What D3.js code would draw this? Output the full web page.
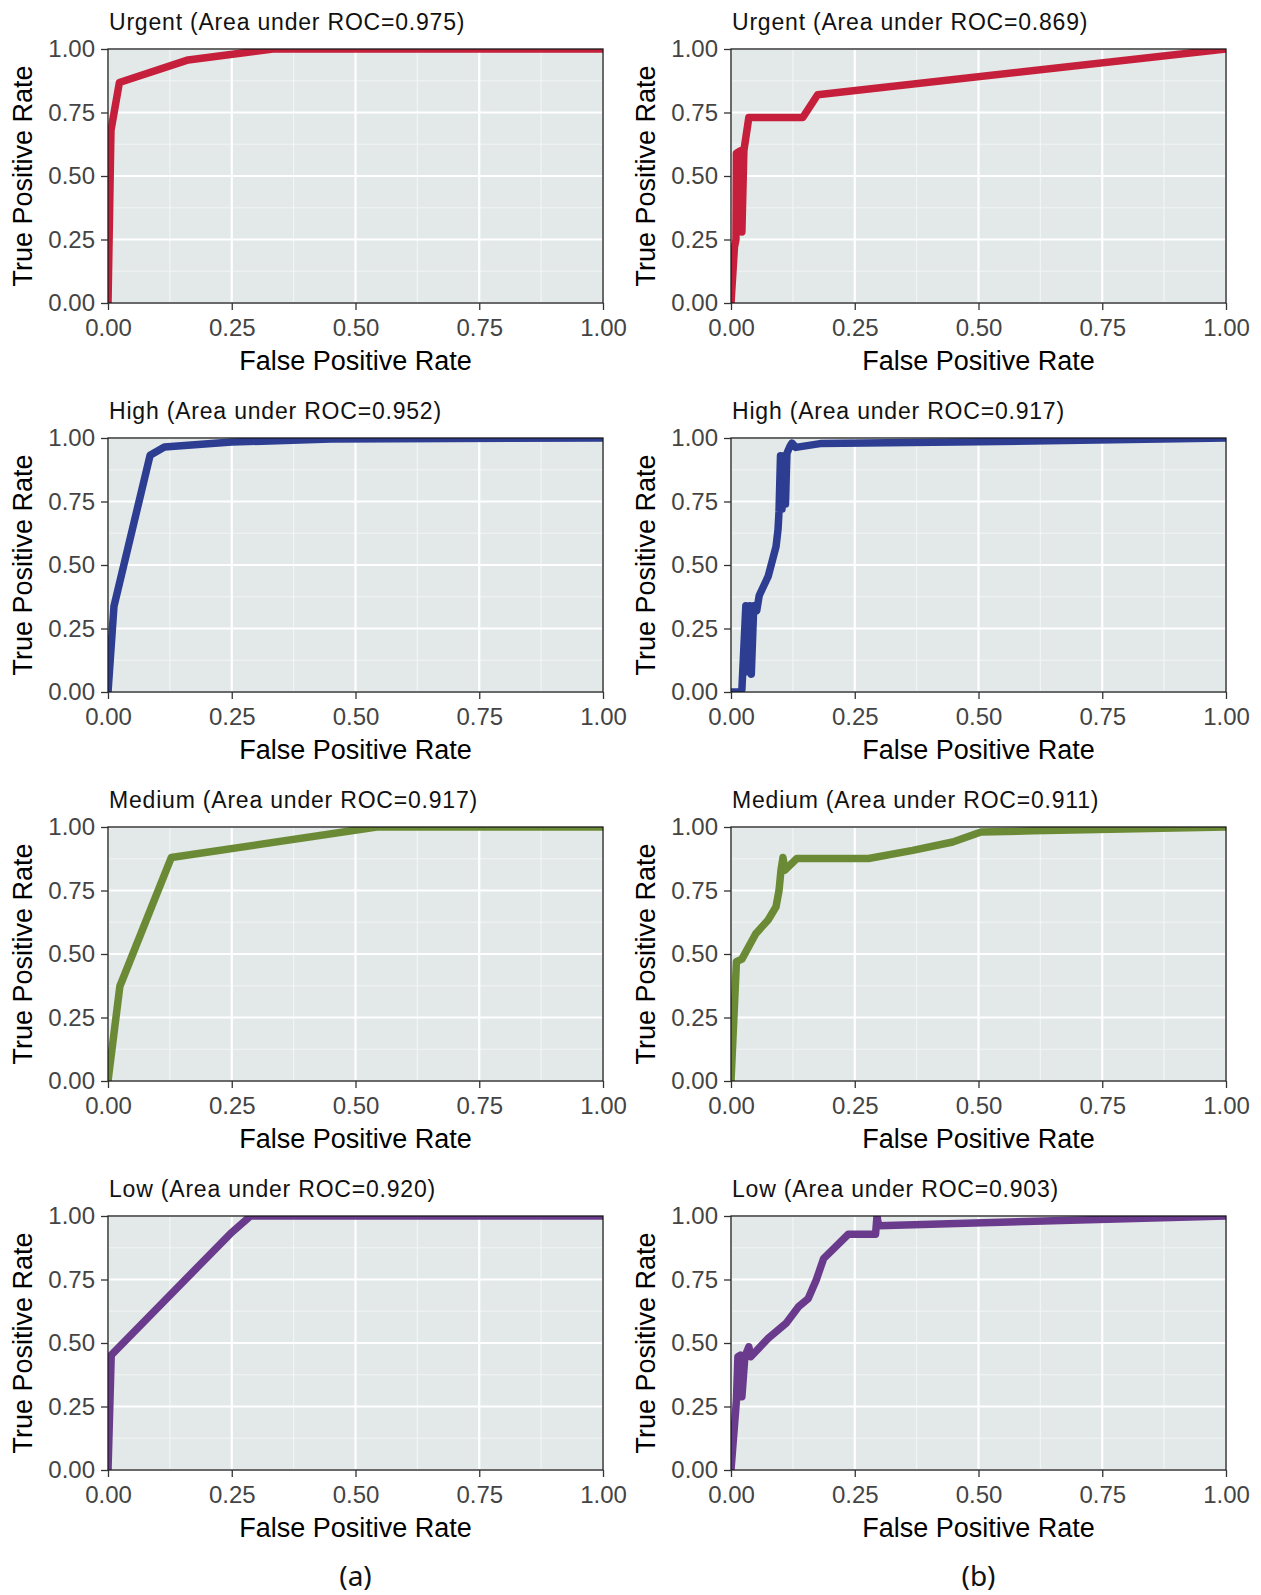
<!DOCTYPE html>
<html><head><meta charset="utf-8">
<script src="https://cdn.jsdelivr.net/npm/d3@7"></script>
<style>
body{margin:0;background:#fff;}
svg{display:block;font-family:"Liberation Sans",Arial,sans-serif;}
</style>
</head><body><svg id="chart" width="1261" height="1595"></svg>
<script>
// ---------- data ----------
const classes = ["Urgent", "High", "Medium", "Low"];
const aucA = [0.975, 0.952, 0.917, 0.920];
const aucB = [0.869, 0.917, 0.911, 0.903];
const lineColors = ["#C61F3B", "#2C3D92", "#6A8A35", "#6A3B8C"];
const tickValues = [0, 0.25, 0.5, 0.75, 1];
const minorValues = [0.125, 0.375, 0.625, 0.875];
const columnLabels = ["(a)", "(b)"];
const xTitle = "False Positive Rate";
const yTitle = "True Positive Rate";

// column (a)
const urgentA_fpr = [0, 0.006, 0.023, 0.162, 0.333, 1];
const urgentA_tpr = [0, 0.68, 0.868, 0.957, 1, 1];
const highA_fpr = [0, 0.012, 0.085, 0.114, 0.25, 0.45, 1];
const highA_tpr = [0, 0.337, 0.932, 0.965, 0.984, 0.996, 1];
const mediumA_fpr = [0, 0.024, 0.128, 0.543, 1];
const mediumA_tpr = [0, 0.373, 0.88, 1, 1];
const lowA_fpr = [0, 0.0065, 0.247, 0.288, 1];
const lowA_tpr = [0, 0.452, 0.93, 1, 1];

// column (b)
const urgentB_fpr = [0, 0.007, 0.010, 0.011, 0.020, 0.022, 0.026, 0.036, 0.145, 0.175, 1];
const urgentB_tpr = [0, 0.22, 0.25, 0.59, 0.60, 0.28, 0.60, 0.73, 0.73, 0.82, 1];
const highB_fpr = [0, 0.018, 0.022, 0.030, 0.033, 0.038, 0.041, 0.046, 0.052, 0.057, 0.075, 0.091, 0.095, 0.097, 0.100, 0.103, 0.107, 0.110, 0.113, 0.119, 0.123, 0.131, 0.18, 0.5, 1];
const highB_tpr = [0, 0, 0.01, 0.34, 0.08, 0.34, 0.07, 0.34, 0.32, 0.38, 0.455, 0.573, 0.64, 0.71, 0.93, 0.72, 0.93, 0.74, 0.94, 0.967, 0.98, 0.963, 0.978, 0.985, 1];
const mediumB_fpr = [0, 0.011, 0.022, 0.05, 0.075, 0.091, 0.097, 0.101, 0.105, 0.109, 0.133, 0.278, 0.367, 0.448, 0.505, 0.61, 1];
const mediumB_tpr = [0, 0.47, 0.48, 0.58, 0.634, 0.686, 0.75, 0.83, 0.88, 0.83, 0.876, 0.876, 0.908, 0.941, 0.98, 0.985, 1];
const lowB_fpr = [0, 0.011, 0.014, 0.019, 0.022, 0.028, 0.036, 0.040, 0.075, 0.111, 0.136, 0.156, 0.172, 0.187, 0.237, 0.292, 0.295, 0.298, 1];
const lowB_tpr = [0, 0.275, 0.446, 0.452, 0.288, 0.446, 0.485, 0.446, 0.518, 0.577, 0.642, 0.675, 0.747, 0.832, 0.928, 0.928, 1.0, 0.962, 1];

const seriesA = [[urgentA_fpr, urgentA_tpr], [highA_fpr, highA_tpr], [mediumA_fpr, mediumA_tpr], [lowA_fpr, lowA_tpr]];
const seriesB = [[urgentB_fpr, urgentB_tpr], [highB_fpr, highB_tpr], [mediumB_fpr, mediumB_tpr], [lowB_fpr, lowB_tpr]];

// ---------- layout ----------
const svg = d3.select("#chart");
const panelW = 495, panelH = 254;
const colX = [108, 731];
const rowY = [49, 438, 827, 1216];
const x = d3.scaleLinear().domain([0, 1]).range([0, panelW]);
const y = d3.scaleLinear().domain([0, 1]).range([panelH, 0]);
const fmt = d3.format(".2f");
const line = d3.line().x(d => x(d[0])).y(d => y(d[1]));

const defs = svg.append("defs");
defs.append("clipPath").attr("id", "panelClip")
  .append("rect").attr("width", panelW).attr("height", panelH);

[seriesA, seriesB].forEach((cols, ci) => {
  const aucs = ci === 0 ? aucA : aucB;
  cols.forEach((s, ri) => {
    const g = svg.append("g").attr("transform", `translate(${colX[ci]},${rowY[ri]})`);
    g.append("rect").attr("width", panelW).attr("height", panelH).attr("fill", "#E3E8E8");
    minorValues.forEach(v => {
      g.append("line").attr("x1", x(v)).attr("x2", x(v)).attr("y1", 0).attr("y2", panelH)
        .attr("stroke", "#F3F5F5").attr("stroke-width", 1.1);
      g.append("line").attr("y1", y(v)).attr("y2", y(v)).attr("x1", 0).attr("x2", panelW)
        .attr("stroke", "#F3F5F5").attr("stroke-width", 1.1);
    });
    tickValues.forEach(v => {
      g.append("line").attr("x1", x(v)).attr("x2", x(v)).attr("y1", 0).attr("y2", panelH)
        .attr("stroke", "#FFFFFF").attr("stroke-width", 2.2);
      g.append("line").attr("y1", y(v)).attr("y2", y(v)).attr("x1", 0).attr("x2", panelW)
        .attr("stroke", "#FFFFFF").attr("stroke-width", 2.2);
    });
    const pts = d3.zip(s[0], s[1]);
    g.append("path").datum(pts).attr("d", line)
      .attr("clip-path", "url(#panelClip)")
      .attr("fill", "none").attr("stroke", lineColors[ri])
      .attr("stroke-width", 7.5).attr("stroke-linejoin", "round").attr("stroke-linecap", "butt");
    g.append("rect").attr("width", panelW).attr("height", panelH)
      .attr("fill", "none").attr("stroke", "#1a1a1a").attr("stroke-width", 1.3);

    const xa = g.append("g").attr("transform", `translate(0,${panelH})`)
      .call(d3.axisBottom(x).tickValues(tickValues).tickFormat(fmt).tickSize(7).tickPadding(8));
    const ya = g.append("g")
      .call(d3.axisLeft(y).tickValues(tickValues).tickFormat(fmt).tickSize(7).tickPadding(6));
    [xa, ya].forEach(a => {
      a.attr("font-family", null).attr("font-size", null);
      a.select(".domain").remove();
      a.selectAll(".tick line").attr("stroke", "#333").attr("stroke-width", 1.3);
      a.selectAll(".tick text").attr("fill", "#444").style("font-size", "24px")
        .style("font-family", "'Liberation Sans', Arial, sans-serif");
    });
    xa.selectAll(".tick text").attr("dy", null).attr("y", 33);

    g.append("text").attr("x", panelW / 2).attr("y", panelH + 67)
      .attr("text-anchor", "middle").style("font-size", "27px").attr("fill", "#000")
      .text(xTitle);
    g.append("text").attr("transform", `translate(-76,${panelH / 2}) rotate(-90)`)
      .attr("text-anchor", "middle").style("font-size", "27px").attr("fill", "#000")
      .text(yTitle);
    g.append("text").attr("x", 1).attr("y", -19.5)
      .style("font-size", "23px").style("letter-spacing", "0.8px").attr("fill", "#111")
      .text(`${classes[ri]} (Area under ROC=${aucs[ri].toFixed(3)})`);
  });
  svg.append("text").attr("x", colX[ci] + panelW / 2).attr("y", 1586)
    .attr("text-anchor", "middle")
    .style("font-family", "'Noto Sans', 'Open Sans', sans-serif").style("font-size", "28px")
    .attr("fill", "#111").text(columnLabels[ci]);
});
</script>
</body></html>
